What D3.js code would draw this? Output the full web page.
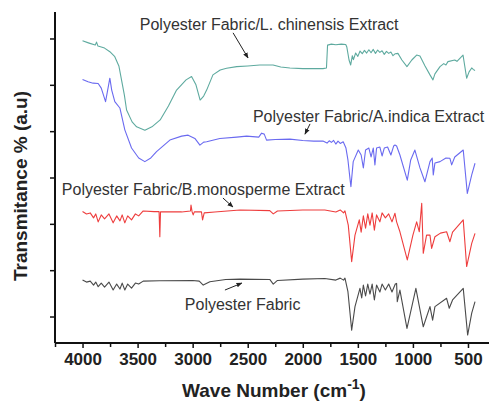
<!DOCTYPE html>
<html>
<head>
<meta charset="utf-8">
<script src="https://cdn.jsdelivr.net/npm/d3@7"></script>
<style>
  body { margin: 0; background: #fff; }
  svg { display: block; font-family: Arial, "Liberation Sans", sans-serif; }
</style>
</head>
<body>
<div id="chart"></div>
<script>
// FTIR spectra, [wave number (cm-1), transmittance (a.u.)]
var chinensis = [
  [4000,91.3],[3940,90.6],[3885,90.0],[3873,90.9],[3860,89.7],[3800,89.1],[3752,88.0],[3707,86.5],
  [3670,83.7],[3646,79.5],[3620,74.9],[3600,70.4],[3550,66.8],[3509,65.3],[3434,64.3],[3370,65.3],
  [3295,67.4],[3220,71.6],[3146,76.4],[3060,79.5],[3010,80.5],[2970,78.0],[2932,73.4],[2900,74.6],
  [2873,76.4],[2816,81.0],[2750,82.5],[2692,83.0],[2600,83.5],[2500,83.7],[2390,84.0],[2270,84.0],
  [2200,83.4],[2117,83.1],[2000,82.9],[1817,82.9],[1785,83.1],[1775,90.0],[1740,90.3],[1700,90.1],
  [1650,90.3],[1610,90.2],[1600,89.4],[1580,85.5],[1565,84.0],[1550,86.8],[1540,85.6],[1520,87.6],
  [1500,86.6],[1480,88.2],[1460,87.4],[1440,88.4],[1420,87.6],[1400,88.6],[1380,87.7],[1360,88.7],
  [1340,87.5],[1320,88.5],[1300,87.8],[1280,88.3],[1260,87.2],[1240,88.1],[1220,87.5],[1200,87.9],
  [1181,86.8],[1160,87.4],[1136,87.5],[1100,85.5],[1054,83.5],[1010,85.5],[966,87.0],[936,86.7],
  [890,83.7],[845,81.0],[818,79.5],[800,81.3],[754,83.5],[720,84.4],[700,84.0],[682,85.0],
  [620,85.5],[600,85.1],[545,87.0],[512,80.0],[490,81.9],[466,83.1],[450,82.6],[436,82.3]
];
var indica = [
  [4000,79.6],[3950,78.9],[3904,78.5],[3858,78.4],[3830,77.0],[3791,72.9],[3775,75.8],[3752,80.0],
  [3735,76.4],[3707,72.9],[3661,71.0],[3616,64.4],[3555,58.9],[3490,55.9],[3434,54.8],[3380,55.9],
  [3328,57.8],[3207,61.3],[3100,62.5],[3041,62.8],[2980,61.8],[2934,59.8],[2900,60.7],[2873,60.8],
  [2753,61.8],[2600,62.2],[2510,62.5],[2400,62.2],[2374,63.4],[2350,63.1],[2329,61.3],[2250,61.5],
  [2117,61.6],[2000,61.2],[1900,61.0],[1817,61.0],[1780,60.4],[1760,61.1],[1740,60.6],[1720,61.2],
  [1700,60.1],[1680,61.0],[1660,60.3],[1633,60.8],[1608,58.9],[1590,55.3],[1572,49.8],[1563,47.2],
  [1542,54.8],[1496,58.3],[1470,56.8],[1450,52.9],[1430,58.3],[1400,58.9],[1380,56.2],[1360,58.9],
  [1345,53.8],[1330,58.9],[1300,59.2],[1280,56.5],[1260,58.9],[1230,59.2],[1200,56.8],[1175,59.5],
  [1163,59.8],[1148,59.5],[1118,56.8],[1051,49.2],[1020,55.3],[982,58.3],[936,52.9],[891,48.7],
  [845,54.8],[825,55.9],[815,50.8],[800,54.4],[754,54.8],[700,55.9],[664,55.8],[648,53.8],
  [620,56.2],[543,58.3],[506,45.2],[466,50.8],[436,54.3]
];
var monosperme = [
  [4000,39.7],[3964,39.0],[3930,39.3],[3900,37.8],[3880,39.0],[3858,36.6],[3830,38.7],[3800,37.5],
  [3760,39.0],[3722,36.3],[3690,38.4],[3660,36.9],[3640,38.7],[3616,36.3],[3590,38.4],[3555,37.2],
  [3520,39.0],[3490,38.4],[3449,39.9],[3350,39.7],[3305,39.7],[3298,32.1],[3292,39.6],[3100,39.6],
  [3020,39.9],[3015,41.7],[3005,39.6],[2995,38.7],[2985,39.6],[2920,39.6],[2910,37.2],[2895,39.3],
  [2800,39.6],[2570,40.2],[2300,40.0],[2268,39.0],[2230,39.9],[2000,40.2],[1800,40.2],[1700,39.6],
  [1660,40.2],[1630,39.3],[1617,39.9],[1587,35.6],[1556,24.6],[1526,32.6],[1487,37.2],[1470,33.5],
  [1450,38.4],[1430,34.7],[1410,39.0],[1390,35.6],[1370,39.3],[1350,34.1],[1330,38.7],[1300,36.6],
  [1280,39.3],[1250,37.8],[1220,39.0],[1190,36.6],[1163,39.2],[1148,36.6],[1118,33.6],[1051,25.1],
  [1000,32.6],[966,36.6],[942,33.6],[920,42.2],[906,27.1],[876,32.6],[845,32.6],[830,28.6],
  [800,32.1],[750,33.2],[694,33.6],[664,30.6],[640,33.5],[543,37.2],[512,23.1],[466,30.1],[436,33.1]
];
var fabric = [
  [4000,19.0],[3964,18.4],[3930,18.7],[3900,17.5],[3880,18.4],[3858,17.0],[3830,18.1],[3800,16.9],
  [3760,18.4],[3722,16.0],[3690,17.8],[3660,16.3],[3640,18.1],[3616,16.0],[3590,17.8],[3555,16.6],
  [3520,18.1],[3490,17.8],[3449,18.7],[3300,18.8],[3000,18.9],[2940,18.7],[2904,17.5],[2844,18.5],
  [2700,19.2],[2570,19.3],[2300,19.2],[2268,17.8],[2230,18.9],[2000,19.3],[1800,19.5],[1700,19.0],
  [1660,19.6],[1630,19.0],[1617,19.6],[1590,15.5],[1556,3.9],[1526,11.0],[1481,16.5],[1465,13.6],
  [1450,17.5],[1430,14.2],[1410,17.8],[1390,14.8],[1370,17.8],[1350,13.0],[1330,17.5],[1300,15.4],
  [1280,17.8],[1250,16.0],[1220,17.8],[1190,15.4],[1160,17.8],[1148,18.0],[1142,12.5],[1118,16.0],
  [1054,4.4],[973,16.5],[906,4.9],[845,11.0],[821,6.9],[800,11.0],[694,13.5],[670,10.5],
  [640,13.0],[543,16.5],[503,2.4],[466,9.0],[436,12.5]
];

var seriesNames = ["Polyester Fabric/L. chinensis Extract", "Polyester Fabric/A.indica Extract",
                   "Polyester Fabric/B.monosperme Extract", "Polyester Fabric"];
var seriesData = [chinensis, indica, monosperme, fabric];
var seriesColors = ["#5eaa9f", "#6a6af0", "#ee3d3d", "#4a4a4a"];

var xTicks = [4000, 3500, 3000, 2500, 2000, 1500, 1000, 500];
var xMinorTicks = [4250, 3750, 3250, 2750, 2250, 1750, 1250, 750];
var yTicks = [8, 22, 36, 50, 64, 78, 92];

// label anchor [wave number, value] and arrow [from, to]
var labelPos = [[3480, 94.6], [2453, 66.8], [4188, 44.7], [3071, 10.0]];
var arrows = [
  [[2633, 93.7], [2497, 86.1]],
  [[1934, 66.2], [1980, 63.1]],
  [[2725, 43.8], [2635, 41.1]],
  [[2707, 16.0], [2553, 18.1]]
];

var W = 489, H = 404;
var svg = d3.select("#chart").append("svg").attr("width", W).attr("height", H);

var x = d3.scaleLinear().domain([4250, 300]).range([55, 490]);
var y = d3.scaleLinear().domain([0, 100]).range([343, 12]);

svg.append("defs").append("marker")
  .attr("id", "arr").attr("viewBox", "0 0 10 10").attr("refX", 9).attr("refY", 5)
  .attr("markerWidth", 6).attr("markerHeight", 6).attr("orient", "auto")
  .append("path").attr("d", "M0,1 L10,5 L0,9 Z").attr("fill", "#222");

// spectra
var line = d3.line().x(d => x(d[0])).y(d => y(d[1]));
svg.selectAll("path.spec")
  .data(seriesData)
  .join("path")
    .attr("class", "spec")
    .attr("d", line)
    .attr("fill", "none")
    .attr("stroke", (d, i) => seriesColors[i])
    .attr("stroke-width", 1.1)
    .attr("stroke-linejoin", "round");

// axes
var xAxis = svg.append("g").attr("transform", "translate(0," + y(0) + ")")
  .call(d3.axisBottom(x).tickValues(xTicks).tickSize(5).tickPadding(5).tickFormat(d3.format("d")));
svg.append("g").attr("transform", "translate(0," + y(0) + ")")
  .call(d3.axisBottom(x).tickValues(xMinorTicks).tickSize(4).tickFormat(""))
  .select(".domain").remove();
var yAxis = svg.append("g").attr("transform", "translate(" + x(4250) + ",0)")
  .call(d3.axisLeft(y).tickValues(yTicks).tickSize(5).tickFormat(""));

svg.selectAll(".domain").attr("stroke", "#111").attr("stroke-width", 2);
svg.selectAll(".tick line").attr("stroke", "#111").attr("stroke-width", 1.5);
xAxis.selectAll("text")
  .attr("font-size", 17).attr("font-weight", "bold").attr("fill", "#222");
xAxis.select(".domain").attr("d", "M" + x(4250) + ",0H490");
yAxis.select(".domain").attr("d", "M0," + y(100) + "V" + y(0));

// annotations
svg.selectAll("text.lab")
  .data(seriesNames)
  .join("text")
    .attr("class", "lab")
    .attr("x", (d, i) => x(labelPos[i][0]))
    .attr("y", (d, i) => y(labelPos[i][1]))
    .attr("font-size", 16)
    .attr("fill", "#333")
    .text(d => d);

svg.selectAll("line.arrow")
  .data(arrows)
  .join("line")
    .attr("class", "arrow")
    .attr("x1", d => x(d[0][0])).attr("y1", d => y(d[0][1]))
    .attr("x2", d => x(d[1][0])).attr("y2", d => y(d[1][1]))
    .attr("stroke", "#222").attr("stroke-width", 1)
    .attr("marker-end", "url(#arr)");

// axis titles
svg.append("text")
  .attr("transform", "translate(27,186) rotate(-90)")
  .attr("text-anchor", "middle")
  .attr("font-size", 19).attr("font-weight", "bold").attr("fill", "#222")
  .text("Transmitance % (a.u)");

var xt = svg.append("text")
  .attr("x", 274).attr("y", 397)
  .attr("text-anchor", "middle")
  .attr("font-size", 19).attr("font-weight", "bold").attr("fill", "#222");
xt.append("tspan").text("Wave Number (cm");
xt.append("tspan").attr("dy", -8).attr("font-size", 14).text("-1");
xt.append("tspan").attr("dy", 8).text(")");
</script>
</body>
</html>
